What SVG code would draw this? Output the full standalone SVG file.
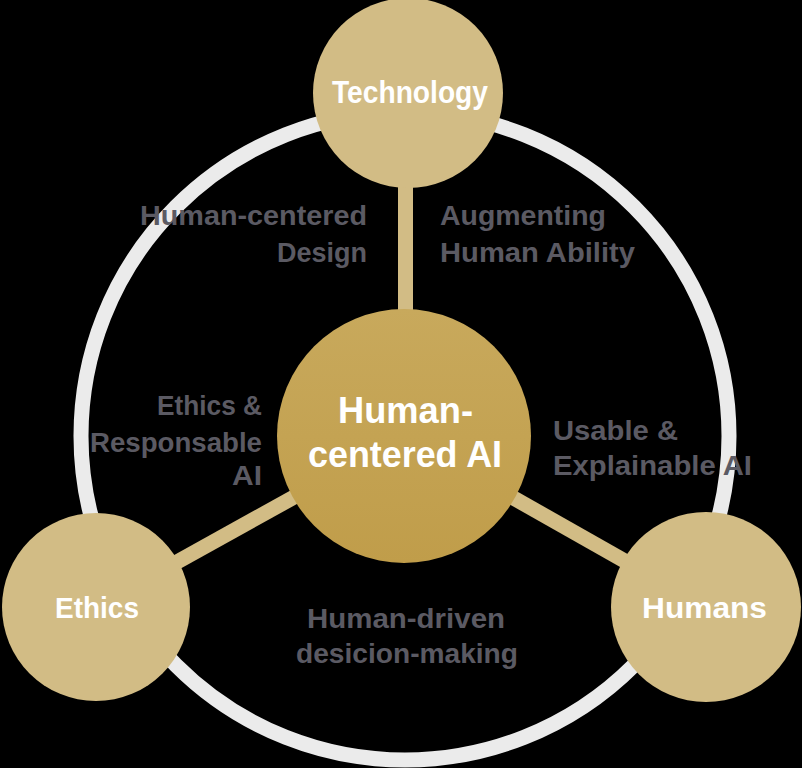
<svg xmlns="http://www.w3.org/2000/svg" width="802" height="768" viewBox="0 0 802 768">
  <defs>
    <linearGradient id="cg" x1="0" y1="0" x2="0" y2="1">
      <stop offset="0" stop-color="#c8a95c"/>
      <stop offset="1" stop-color="#c09d4a"/>
    </linearGradient>
    <style>
      .bg { fill: #000000; }
      .ring { fill: none; stroke: #ebebeb; stroke-width: 15; }
      .conn { stroke: #d2bc85; stroke-width: 15; fill: none; }
      .outer { fill: #d2bc85; }
      .center { fill: url(#cg); }
      .ntxt { fill: #ffffff; font-family: "Liberation Sans", Arial, sans-serif; font-weight: bold; }
      .lbl { fill: #5b5a63; font-family: "Liberation Sans", Arial, sans-serif; font-weight: bold; font-size: 27.5px; }
    </style>
  </defs>
  <rect class="bg" x="0" y="0" width="802" height="768"/>
  <circle id="ring" class="ring" cx="405" cy="436" r="324"/>

  <g id="connectors">
    <line class="conn" x1="405.5" y1="180" x2="405.5" y2="320"/>
    <line class="conn" x1="404" y1="436" x2="96" y2="607"/>
    <line class="conn" x1="404" y1="436" x2="706" y2="607"/>
  </g>

  <g id="node-technology">
    <circle class="outer" cx="408" cy="93" r="95"/>
    <text class="ntxt" x="410" y="103" font-size="31" text-anchor="middle" textLength="156" lengthAdjust="spacingAndGlyphs">Technology</text>
  </g>

  <g id="node-ethics">
    <circle class="outer" cx="96" cy="607" r="94"/>
    <text class="ntxt" x="97" y="618" font-size="29" text-anchor="middle" textLength="84" lengthAdjust="spacingAndGlyphs">Ethics</text>
  </g>

  <g id="node-humans">
    <circle class="outer" cx="706" cy="607" r="95"/>
    <text class="ntxt" x="704.5" y="618" font-size="29" text-anchor="middle" textLength="125" lengthAdjust="spacingAndGlyphs">Humans</text>
  </g>

  <g id="node-center">
    <circle class="center" cx="404" cy="436" r="127"/>
    <text class="ntxt" x="405.5" y="423" font-size="37" text-anchor="middle" textLength="135" lengthAdjust="spacingAndGlyphs">Human-</text>
    <text class="ntxt" x="405" y="467" font-size="37" text-anchor="middle" textLength="194" lengthAdjust="spacingAndGlyphs">centered AI</text>
  </g>

  <g id="label-design">
    <text class="lbl" x="367" y="225" text-anchor="end" textLength="227" lengthAdjust="spacingAndGlyphs">Human-centered</text>
    <text class="lbl" x="367" y="262" text-anchor="end" textLength="90" lengthAdjust="spacingAndGlyphs">Design</text>
  </g>

  <g id="label-augmenting">
    <text class="lbl" x="440" y="225" textLength="166" lengthAdjust="spacingAndGlyphs">Augmenting</text>
    <text class="lbl" x="440" y="262" textLength="195" lengthAdjust="spacingAndGlyphs">Human Ability</text>
  </g>

  <g id="label-ethics">
    <text class="lbl" x="262" y="415" text-anchor="end" textLength="105" lengthAdjust="spacingAndGlyphs">Ethics &amp;</text>
    <text class="lbl" x="262" y="452" text-anchor="end" textLength="172" lengthAdjust="spacingAndGlyphs">Responsable</text>
    <text class="lbl" x="262" y="485" text-anchor="end" textLength="30" lengthAdjust="spacingAndGlyphs">AI</text>
  </g>

  <g id="label-usable">
    <text class="lbl" x="553" y="440" textLength="125" lengthAdjust="spacingAndGlyphs">Usable &amp;</text>
    <text class="lbl" x="553" y="475" textLength="199" lengthAdjust="spacingAndGlyphs">Explainable AI</text>
  </g>

  <g id="label-decision">
    <text class="lbl" x="406" y="628" text-anchor="middle" textLength="198" lengthAdjust="spacingAndGlyphs">Human-driven</text>
    <text class="lbl" x="407" y="663" text-anchor="middle" textLength="222" lengthAdjust="spacingAndGlyphs">desicion-making</text>
  </g>
</svg>
